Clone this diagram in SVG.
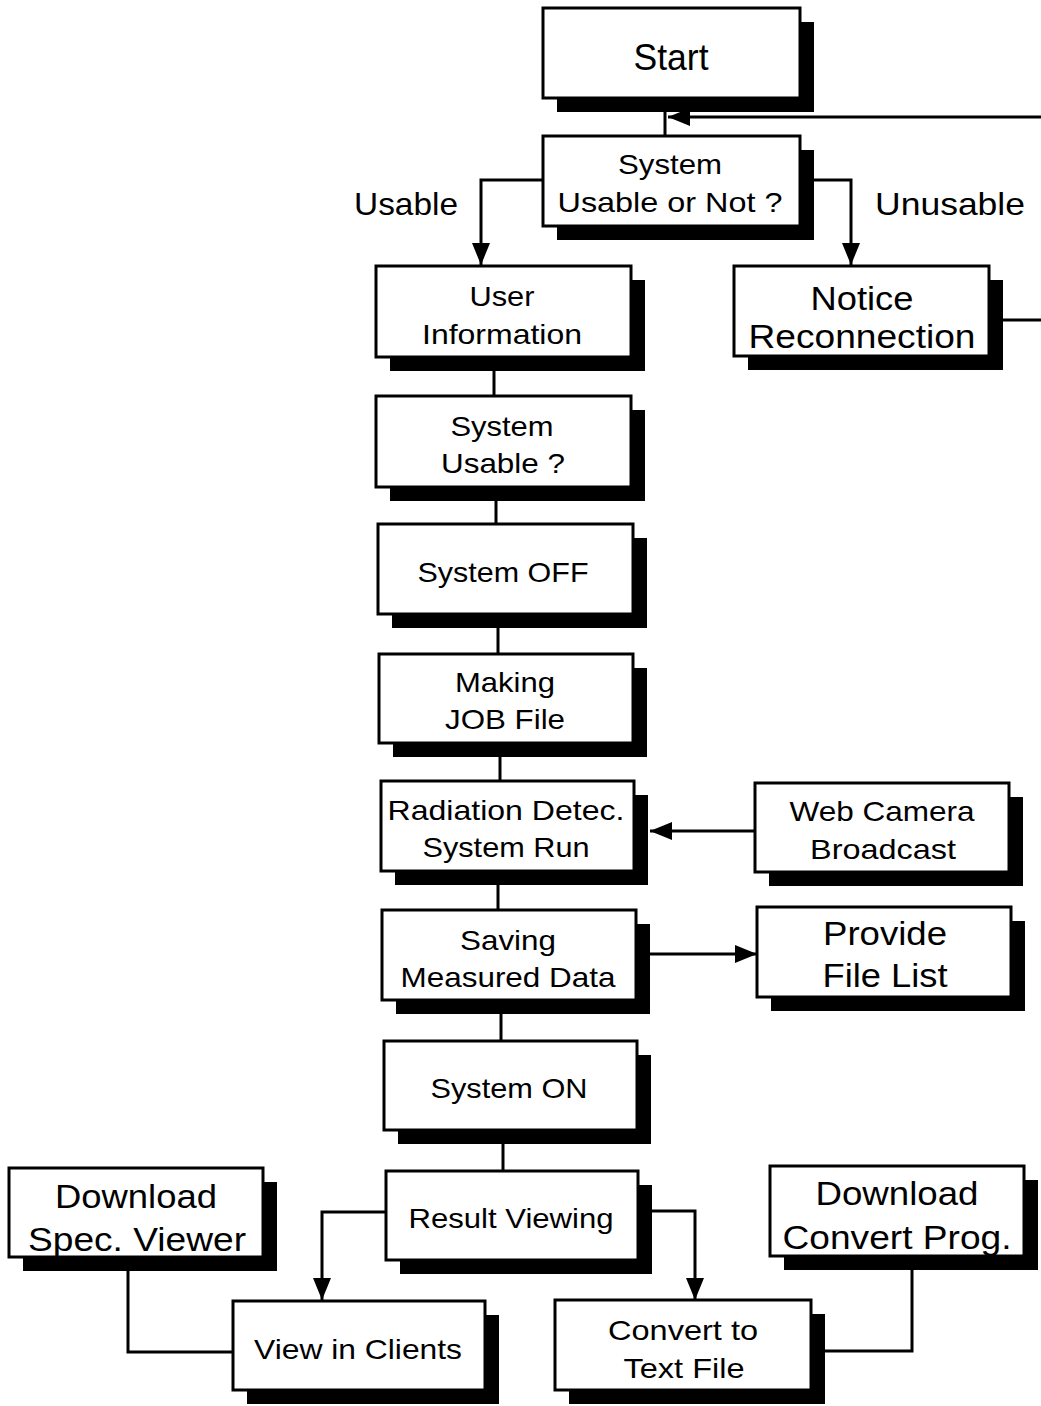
<svg xmlns="http://www.w3.org/2000/svg" width="1041" height="1406" viewBox="0 0 1041 1406">
<style>
.sh{fill:#000}
.bx{fill:#fff;stroke:#000;stroke-width:3}
.t{font-family:"Liberation Sans",Arial,sans-serif;font-size:28px;fill:#000;text-anchor:middle}
.b{font-size:34px}
.s{font-size:36px}
.ln{fill:none;stroke:#000;stroke-width:3}
</style>
<defs>
<marker id="ah" markerUnits="userSpaceOnUse" markerWidth="24" markerHeight="20" refX="22" refY="9" orient="auto" viewBox="0 0 24 20">
<path d="M0,0 L22,9 L0,18 z" fill="#000"/>
</marker>
</defs>
<rect width="1041" height="1406" fill="#fff"/>
<g id="connectors">
<path class="ln" d="M665,98 V136"/>
<path class="ln" d="M989,320 H1044 V117 H668" marker-end="url(#ah)"/>
<path class="ln" d="M543,180 H481 V265" marker-end="url(#ah)"/>
<path class="ln" d="M800,180 H851 V265" marker-end="url(#ah)"/>
<path class="ln" d="M494,357 V396"/>
<path class="ln" d="M496,487 V524"/>
<path class="ln" d="M498,614 V654"/>
<path class="ln" d="M500,743 V781"/>
<path class="ln" d="M498,871 V910"/>
<path class="ln" d="M501,1000 V1041"/>
<path class="ln" d="M503,1130 V1171"/>
<path class="ln" d="M755,831 H650" marker-end="url(#ah)"/>
<path class="ln" d="M650,954 H757" marker-end="url(#ah)"/>
<path class="ln" d="M386,1212 H322 V1300" marker-end="url(#ah)"/>
<path class="ln" d="M638,1211 H695 V1300" marker-end="url(#ah)"/>
<path class="ln" d="M128,1257 V1352 H233"/>
<path class="ln" d="M912,1256 V1351 H811"/>
</g>
<g id="start">
<rect class="sh" x="557" y="22" width="257" height="90"/>
<rect class="bx" x="543" y="8" width="257" height="90"/>
<text class="t s" x="671" y="70" textLength="75" lengthAdjust="spacingAndGlyphs">Start</text>
</g>
<g id="decision">
<rect class="sh" x="557" y="150" width="257" height="90"/>
<rect class="bx" x="543" y="136" width="257" height="90"/>
<text class="t" x="670" y="174" textLength="104" lengthAdjust="spacingAndGlyphs">System</text>
<text class="t" x="670" y="212" textLength="225" lengthAdjust="spacingAndGlyphs">Usable or Not ?</text>
</g>
<g id="label-usable">
<text class="t" x="406" y="215" style="font-size:32px" textLength="104" lengthAdjust="spacingAndGlyphs">Usable</text>
</g>
<g id="label-unusable">
<text class="t" x="950" y="215" style="font-size:32px" textLength="150" lengthAdjust="spacingAndGlyphs">Unusable</text>
</g>
<g id="user-info">
<rect class="sh" x="390" y="280" width="255" height="91"/>
<rect class="bx" x="376" y="266" width="255" height="91"/>
<text class="t" x="502" y="306" textLength="65" lengthAdjust="spacingAndGlyphs">User</text>
<text class="t" x="502" y="344" textLength="160" lengthAdjust="spacingAndGlyphs">Information</text>
</g>
<g id="notice">
<rect class="sh" x="748" y="280" width="255" height="90"/>
<rect class="bx" x="734" y="266" width="255" height="90"/>
<text class="t b" x="862" y="310" textLength="103" lengthAdjust="spacingAndGlyphs">Notice</text>
<text class="t b" x="862" y="348" textLength="227" lengthAdjust="spacingAndGlyphs">Reconnection</text>
</g>
<g id="system-usable">
<rect class="sh" x="390" y="410" width="255" height="91"/>
<rect class="bx" x="376" y="396" width="255" height="91"/>
<text class="t" x="502" y="436" textLength="103" lengthAdjust="spacingAndGlyphs">System</text>
<text class="t" x="503" y="473" textLength="124" lengthAdjust="spacingAndGlyphs">Usable ?</text>
</g>
<g id="system-off">
<rect class="sh" x="392" y="538" width="255" height="90"/>
<rect class="bx" x="378" y="524" width="255" height="90"/>
<text class="t" x="503" y="582" textLength="171" lengthAdjust="spacingAndGlyphs">System OFF</text>
</g>
<g id="job-file">
<rect class="sh" x="393" y="668" width="254" height="89"/>
<rect class="bx" x="379" y="654" width="254" height="89"/>
<text class="t" x="505" y="692" textLength="100" lengthAdjust="spacingAndGlyphs">Making</text>
<text class="t" x="505" y="729" textLength="120" lengthAdjust="spacingAndGlyphs">JOB File</text>
</g>
<g id="radiation">
<rect class="sh" x="395" y="795" width="253" height="90"/>
<rect class="bx" x="381" y="781" width="253" height="90"/>
<text class="t" x="506" y="820" textLength="237" lengthAdjust="spacingAndGlyphs">Radiation Detec.</text>
<text class="t" x="506" y="857" textLength="167" lengthAdjust="spacingAndGlyphs">System Run</text>
</g>
<g id="web-camera">
<rect class="sh" x="769" y="797" width="254" height="89"/>
<rect class="bx" x="755" y="783" width="254" height="89"/>
<text class="t" x="882" y="821" textLength="185" lengthAdjust="spacingAndGlyphs">Web Camera</text>
<text class="t" x="883" y="859" textLength="146" lengthAdjust="spacingAndGlyphs">Broadcast</text>
</g>
<g id="saving">
<rect class="sh" x="396" y="924" width="254" height="90"/>
<rect class="bx" x="382" y="910" width="254" height="90"/>
<text class="t" x="508" y="950" textLength="96" lengthAdjust="spacingAndGlyphs">Saving</text>
<text class="t" x="508" y="987" textLength="215" lengthAdjust="spacingAndGlyphs">Measured Data</text>
</g>
<g id="file-list">
<rect class="sh" x="771" y="921" width="254" height="90"/>
<rect class="bx" x="757" y="907" width="254" height="90"/>
<text class="t b" x="885" y="945" textLength="124" lengthAdjust="spacingAndGlyphs">Provide</text>
<text class="t b" x="885" y="987" textLength="125" lengthAdjust="spacingAndGlyphs">File List</text>
</g>
<g id="system-on">
<rect class="sh" x="398" y="1055" width="253" height="89"/>
<rect class="bx" x="384" y="1041" width="253" height="89"/>
<text class="t" x="509" y="1098" textLength="157" lengthAdjust="spacingAndGlyphs">System ON</text>
</g>
<g id="result-viewing">
<rect class="sh" x="400" y="1185" width="252" height="89"/>
<rect class="bx" x="386" y="1171" width="252" height="89"/>
<text class="t" x="511" y="1228" textLength="205" lengthAdjust="spacingAndGlyphs">Result Viewing</text>
</g>
<g id="spec-viewer">
<rect class="sh" x="23" y="1182" width="254" height="89"/>
<rect class="bx" x="9" y="1168" width="254" height="89"/>
<text class="t b" x="136" y="1208" textLength="162" lengthAdjust="spacingAndGlyphs">Download</text>
<text class="t b" x="137" y="1251" textLength="218" lengthAdjust="spacingAndGlyphs">Spec. Viewer</text>
</g>
<g id="view-clients">
<rect class="sh" x="247" y="1315" width="252" height="89"/>
<rect class="bx" x="233" y="1301" width="252" height="89"/>
<text class="t" x="358" y="1359" textLength="208" lengthAdjust="spacingAndGlyphs">View in Clients</text>
</g>
<g id="convert-text">
<rect class="sh" x="569" y="1314" width="256" height="90"/>
<rect class="bx" x="555" y="1300" width="256" height="90"/>
<text class="t" x="683" y="1340" textLength="150" lengthAdjust="spacingAndGlyphs">Convert to</text>
<text class="t" x="684" y="1378" textLength="121" lengthAdjust="spacingAndGlyphs">Text File</text>
</g>
<g id="convert-prog">
<rect class="sh" x="784" y="1180" width="254" height="90"/>
<rect class="bx" x="770" y="1166" width="254" height="90"/>
<text class="t b" x="897" y="1205" textLength="163" lengthAdjust="spacingAndGlyphs">Download</text>
<text class="t b" x="897" y="1249" textLength="229" lengthAdjust="spacingAndGlyphs">Convert Prog.</text>
</g>
</svg>
